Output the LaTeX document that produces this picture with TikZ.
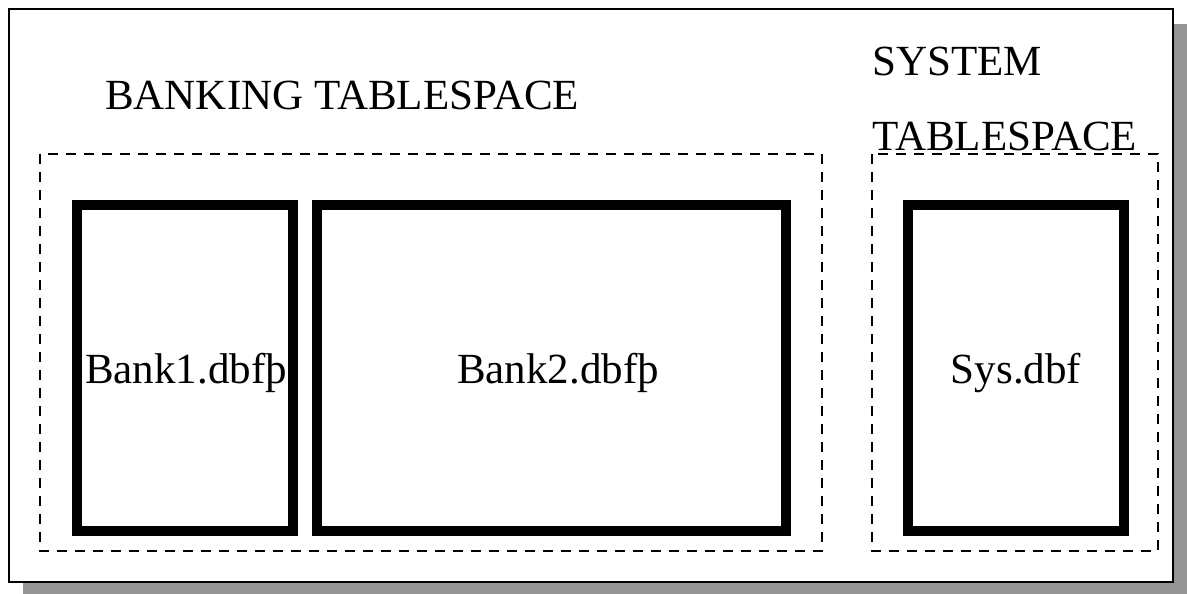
\documentclass[tikz,border=0pt]{standalone}
\usepackage{fontspec}
\setmainfont{Liberation Serif}
\begin{document}
\begin{tikzpicture}[x=1pt,y=-1pt,
  frame/.style={draw=black,line width=2.4pt,fill=white},
  shadowbox/.style={fill=black!42,draw=none},
  tsgroup/.style={draw=black,line width=2pt,dash pattern=on 10pt off 8pt},
  datafile/.style={draw=black,line width=10pt,inner sep=0pt,font=\fontsize{43}{50}\selectfont},
  title/.style={inner sep=0pt,font=\fontsize{43}{75}\selectfont,align=left}]
\useasboundingbox (0,0) rectangle (1187,594);
\fill[shadowbox] (23,24) rectangle (1187,594);
\draw[frame] (9,9) rectangle (1173,582);
\node[title,anchor=base west] (banktitle) at (105,110) {BANKING TABLESPACE};
\node[title,anchor=base west] (systitle) at (872,150) {SYSTEM\\TABLESPACE};
\draw[tsgroup] (40,154) rectangle (822,551);
\draw[tsgroup] (872,154) rectangle (1158,551);
\node[datafile,minimum width=216pt,minimum height=326pt,text depth=0pt,text height=0pt] (bank1) at (185,368) {};
\node[datafile,minimum width=469pt,minimum height=326pt] (bank2) at (551.5,368) {};
\node[datafile,minimum width=216pt,minimum height=326pt] (sys) at (1016,368) {};
\node[inner sep=0pt,font=\fontsize{43}{50}\selectfont,anchor=base] (bank1label) at (186,383) {Bank1.dbfþ};
\node[inner sep=0pt,font=\fontsize{43}{50}\selectfont,anchor=base] (bank2label) at (558,383) {Bank2.dbfþ};
\node[inner sep=0pt,font=\fontsize{43}{50}\selectfont,anchor=base] (syslabel) at (1016,383) {Sys.dbf};
\end{tikzpicture}
\end{document}
